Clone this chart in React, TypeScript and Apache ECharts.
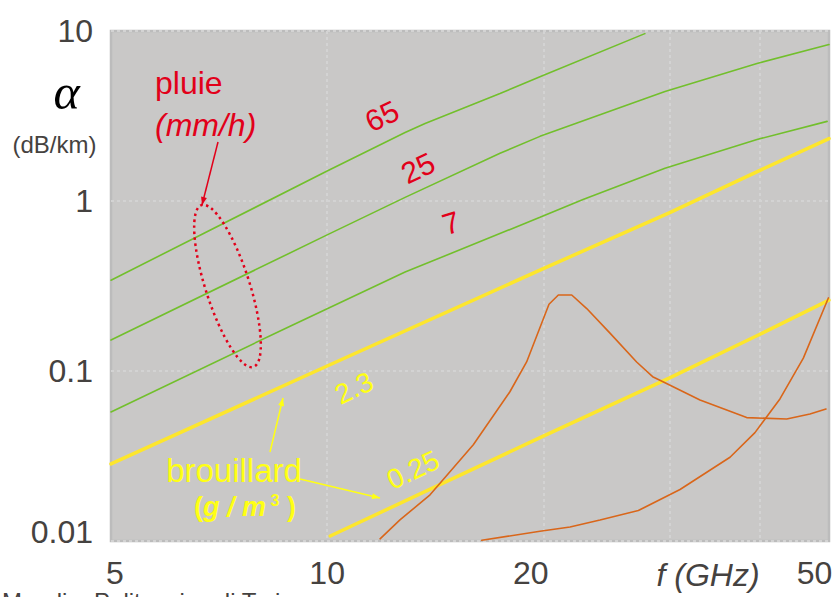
import React, { useEffect, useRef } from 'react';
import * as echarts from 'echarts';

// ---------- data (frequency GHz, attenuation dB/km) ----------
const xLabelValues = [5, 10, 20, 50];
const xLabelTexts = ['5', '10', '20', '50'];
const xGridValues = [10, 20, 30, 40];
const yTickValues = [0.01, 0.1, 1, 10];
const yTickTexts = ['0.01', '0.1', '1', '10'];

const rain65 = [[5.0, 0.342], [10, 1.5], [12.84, 2.53], [13.69, 2.86], [17.41, 4.29], [19.98, 5.47], [27.7, 9.65]];
const rain25 = [[5.0, 0.152], [10, 0.632], [12.84, 1.05], [17.41, 1.91], [19.79, 2.4], [25.83, 3.6], [29.55, 4.41], [39.69, 6.44], [50, 8.32]];
const rain7 = [[5.0, 0.0574], [8.94, 0.186], [12.84, 0.382], [19.79, 0.802], [22.72, 1.02], [29.55, 1.56], [39.69, 2.3], [49.7, 2.94]];
const fog23 = [[5, 0.0284], [10, 0.107], [20, 0.4], [30, 0.855], [40, 1.51], [50, 2.33]];
const fog025 = [[10.1, 0.0107], [20, 0.0414], [30, 0.0911], [40, 0.164], [50, 0.261]];
const vapour = [[11.85, 0.0103], [12.63, 0.0133], [13.91, 0.0187], [15.98, 0.0368], [17.97, 0.0755], [18.96, 0.113], [20.37, 0.247], [20.99, 0.28], [21.91, 0.28], [22.99, 0.233], [24.77, 0.167], [26.98, 0.113], [28.4, 0.0926], [29.36, 0.0865], [33.06, 0.0676], [38.4, 0.0532], [43.66, 0.0522], [47.04, 0.0559], [49.52, 0.0598]];
const oxygen = [[16.42, 0.0101], [19.79, 0.0114], [21.79, 0.0121], [23.99, 0.0133], [27.13, 0.0151], [31.01, 0.0201], [36.4, 0.0311], [39.43, 0.0434], [42.72, 0.0685], [46.05, 0.119], [49.9, 0.269]];

const rainLabels = ['65', '25', '7'];
const fogLabels = ['2.3', '0.25'];

const RED = '#e2001a';
const GREEN = '#72bf2c';
const YELLOW_LINE = '#fde62c';
const YELLOW_TEXT = '#ffff14';
const ORANGE = '#d9661a';
const DARK = '#454240';
const SANS = '"Liberation Sans", Arial, sans-serif';

function nearestIndex(vals: number[], v: number) {
  let best = 0;
  let bd = Infinity;
  vals.forEach((t, i) => {
    const d = Math.abs(Math.log10(t) - Math.log10(v));
    if (d < bd) { bd = d; best = i; }
  });
  return best;
}

function arrowHead(x1: number, y1: number, x2: number, y2: number, len: number, half: number) {
  const dx = x2 - x1, dy = y2 - y1;
  const L = Math.sqrt(dx * dx + dy * dy);
  const ux = dx / L, uy = dy / L;
  const bx = x2 - ux * len, by = y2 - uy * len;
  return [[x2, y2], [bx - uy * half, by + ux * half], [bx + uy * half, by - ux * half]];
}

function lineSeries(name: string, data: number[][], color: string, width: number, z: number) {
  return {
    name, type: 'line', data, symbol: 'none', showSymbol: false, silent: true, z,
    lineStyle: { color, width, cap: 'round' },
  };
}

export default function App() {
  const ref = useRef<HTMLDivElement>(null);
  useEffect(() => {
    const chart = echarts.init(ref.current!, null, { renderer: 'svg' });
    const labelBase = { fontSize: 32, color: DARK, fontFamily: SANS };
    const xPads = [[0, 0, 0, 8], [0, 0, 0, 0], [0, 25, 0, 0], [0, 29, 0, 0]];
    const xRich: any = {};
    xPads.forEach((p, i) => { xRich['x' + i] = { ...labelBase, padding: p }; });
    const yRich: any = {
      lo: { ...labelBase, padding: [0, 0, 18, 0] },
      n: { ...labelBase },
    };

    const redArrow = { x1: 218, y1: 142, x2: 202, y2: 205 };
    const yArrow1 = { x1: 270, y1: 452, x2: 283, y2: 398 };
    const yArrow2 = { x1: 300, y1: 479, x2: 380, y2: 498 };

    const option: any = {
      animation: false,
      backgroundColor: '#ffffff',
      grid: {
        left: 111, top: 31, width: 718, height: 510, show: true,
        backgroundColor: '#c9c8c7', borderColor: '#bcbcbc', borderWidth: 2.5,
      },
      xAxis: {
        type: 'log', logBase: 10, min: 5, max: 50,
        axisLine: { show: false },
        axisTick: { show: false, customValues: xGridValues },
        splitLine: { show: true, lineStyle: { color: '#d3d3d3', width: 2, type: [3, 3] } },
        axisLabel: {
          customValues: xLabelValues, margin: 16, ...labelBase, rich: xRich,
          formatter: (v: number) => {
            const i = nearestIndex(xLabelValues, v);
            return '{x' + i + '|' + xLabelTexts[i] + '}';
          },
        },
      },
      yAxis: {
        type: 'log', logBase: 10, min: 0.01, max: 10,
        axisLine: { show: false },
        axisTick: { show: false },
        splitLine: { show: true, lineStyle: { color: '#d3d3d3', width: 2, type: [3, 3] } },
        axisLabel: {
          margin: 18, ...labelBase, rich: yRich,
          formatter: (v: number) => {
            const i = nearestIndex(yTickValues, v);
            return i === 0 ? '{lo|' + yTickTexts[i] + '}' : '{n|' + yTickTexts[i] + '}';
          },
        },
      },
      series: [
        lineSeries('65 mm/h', rain65, GREEN, 1.6, 3),
        lineSeries('25 mm/h', rain25, GREEN, 1.6, 3),
        lineSeries('7 mm/h', rain7, GREEN, 1.6, 3),
        lineSeries('fog 2.3', fog23, YELLOW_LINE, 3.5, 4),
        lineSeries('fog 0.25', fog025, YELLOW_LINE, 3.5, 4),
        lineSeries('H2O', vapour, ORANGE, 1.6, 5),
        lineSeries('O2', oxygen, ORANGE, 1.6, 5),
      ],
      graphic: [
        // left axis title
        { type: 'text', x: 66.5, y: 92, z: 100, style: { text: 'α', fill: '#000', fontSize: 50, fontStyle: 'italic', fontFamily: '"Liberation Serif", "Times New Roman", serif', align: 'center', verticalAlign: 'middle' } },
        { type: 'text', x: 54.5, y: 144, z: 100, style: { text: '(dB/km)', fill: DARK, fontSize: 24, fontFamily: SANS, align: 'center', verticalAlign: 'middle' } },
        { type: 'text', x: 708, y: 575, z: 100, style: { text: 'f (GHz)', fill: DARK, fontSize: 32, fontStyle: 'italic', fontFamily: SANS, align: 'center', verticalAlign: 'middle' } },
        { type: 'text', x: 2, y: 601, z: 100, style: { text: 'Mondin, Politecnico di Torino', fill: DARK, fontSize: 24, fontFamily: SANS, align: 'left', verticalAlign: 'middle' } },
        // rain annotation
        { type: 'text', x: 155, y: 83, z: 100, style: { text: 'pluie', fill: RED, fontSize: 32, fontFamily: SANS, align: 'left', verticalAlign: 'middle' } },
        { type: 'text', x: 155, y: 124.5, z: 100, style: { text: '(mm/h)', fill: RED, fontSize: 32, fontStyle: 'italic', fontFamily: SANS, align: 'left', verticalAlign: 'middle' } },
        { type: 'line', z: 100, shape: { x1: redArrow.x1, y1: redArrow.y1, x2: redArrow.x2, y2: redArrow.y2 }, style: { stroke: RED, lineWidth: 1.5 } },
        { type: 'polygon', z: 100, shape: { points: arrowHead(redArrow.x1, redArrow.y1, redArrow.x2, redArrow.y2, 8, 3) }, style: { fill: RED } },
        { type: 'ellipse', z: 100, x: 227.5, y: 286, rotation: 0.31, shape: { cx: 0, cy: 0, rx: 22, ry: 85 }, style: { fill: 'none', stroke: RED, lineWidth: 2.5, lineDash: [2.5, 3.5] } },
        { type: 'text', x: 382, y: 116, rotation: 0.45, z: 100, style: { text: rainLabels[0], fill: RED, fontSize: 30, fontFamily: SANS, align: 'center', verticalAlign: 'middle' } },
        { type: 'text', x: 418, y: 168, rotation: 0.45, z: 100, style: { text: rainLabels[1], fill: RED, fontSize: 30, fontFamily: SANS, align: 'center', verticalAlign: 'middle' } },
        { type: 'text', x: 451, y: 223, rotation: 0.3, z: 100, style: { text: rainLabels[2], fill: RED, fontSize: 30, fontFamily: SANS, align: 'center', verticalAlign: 'middle' } },
        // fog annotation
        { type: 'text', x: 354, y: 388, rotation: 0.44, z: 100, style: { text: fogLabels[0], fill: YELLOW_TEXT, fontSize: 28, fontFamily: SANS, align: 'center', verticalAlign: 'middle' } },
        { type: 'text', x: 413, y: 470, rotation: 0.44, z: 100, style: { text: fogLabels[1], fill: YELLOW_TEXT, fontSize: 28, fontFamily: SANS, align: 'center', verticalAlign: 'middle' } },
        { type: 'text', x: 234, y: 470, z: 100, style: { text: 'brouillard', fill: YELLOW_TEXT, fontSize: 33, fontFamily: SANS, align: 'center', verticalAlign: 'middle' } },
        {
          type: 'text', x: 245, y: 507, z: 100,
          style: {
            text: '{n|(}{i|g / m}{s| 3}{n| )}', align: 'center', verticalAlign: 'middle',
            rich: {
              n: { fill: YELLOW_TEXT, fontSize: 27, fontWeight: 'bold', fontFamily: SANS },
              i: { fill: YELLOW_TEXT, fontSize: 27, fontWeight: 'bold', fontStyle: 'italic', fontFamily: SANS },
              s: { fill: YELLOW_TEXT, fontSize: 16, fontWeight: 'bold', fontFamily: SANS, padding: [0, 0, 14, 0] },
            },
          },
        },
        { type: 'line', z: 100, shape: { x1: yArrow1.x1, y1: yArrow1.y1, x2: yArrow1.x2, y2: yArrow1.y2 }, style: { stroke: YELLOW_TEXT, lineWidth: 1.5 } },
        { type: 'polygon', z: 100, shape: { points: arrowHead(yArrow1.x1, yArrow1.y1, yArrow1.x2, yArrow1.y2, 8, 3) }, style: { fill: YELLOW_TEXT } },
        { type: 'line', z: 100, shape: { x1: yArrow2.x1, y1: yArrow2.y1, x2: yArrow2.x2, y2: yArrow2.y2 }, style: { stroke: YELLOW_TEXT, lineWidth: 1.5 } },
        { type: 'polygon', z: 100, shape: { points: arrowHead(yArrow2.x1, yArrow2.y1, yArrow2.x2, yArrow2.y2, 8, 3) }, style: { fill: YELLOW_TEXT } },
      ],
    };
    chart.setOption(option);
    return () => chart.dispose();
  }, []);
  return <div ref={ref} style={{ position: 'fixed', left: 0, top: 0, width: 837, height: 597 }} />;
}
